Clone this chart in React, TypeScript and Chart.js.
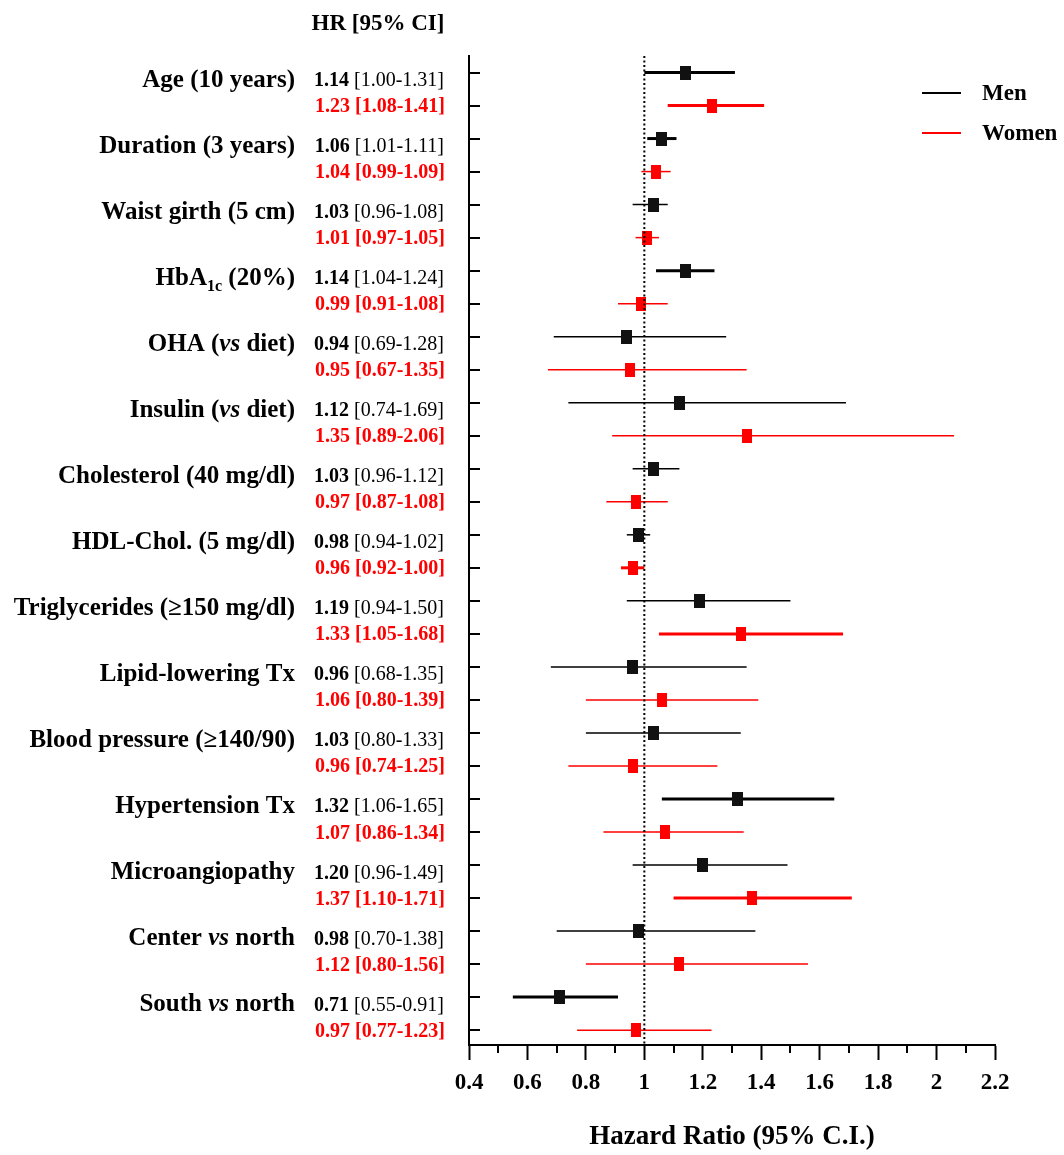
import React, { useEffect, useRef } from 'react';
import { Chart, registerables } from 'chart.js';

Chart.register(...registerables);

const FONT = '"Liberation Serif", "Times New Roman", serif';

// ---- data ----
const variables = [
  'Age (10 years)',
  'Duration (3 years)',
  'Waist girth (5 cm)',
  'HbA1c (20%)',
  'OHA (vs diet)',
  'Insulin (vs diet)',
  'Cholesterol (40 mg/dl)',
  'HDL-Chol. (5 mg/dl)',
  'Triglycerides (≥150 mg/dl)',
  'Lipid-lowering Tx',
  'Blood pressure (≥140/90)',
  'Hypertension Tx',
  'Microangiopathy',
  'Center vs north',
  'South vs north',
];
const menHR = [1.14, 1.06, 1.03, 1.14, 0.94, 1.12, 1.03, 0.98, 1.19, 0.96, 1.03, 1.32, 1.20, 0.98, 0.71];
const menLo = [1.00, 1.01, 0.96, 1.04, 0.69, 0.74, 0.96, 0.94, 0.94, 0.68, 0.80, 1.06, 0.96, 0.70, 0.55];
const menHi = [1.31, 1.11, 1.08, 1.24, 1.28, 1.69, 1.12, 1.02, 1.50, 1.35, 1.33, 1.65, 1.49, 1.38, 0.91];
const womenHR = [1.23, 1.04, 1.01, 0.99, 0.95, 1.35, 0.97, 0.96, 1.33, 1.06, 0.96, 1.07, 1.37, 1.12, 0.97];
const womenLo = [1.08, 0.99, 0.97, 0.91, 0.67, 0.89, 0.87, 0.92, 1.05, 0.80, 0.74, 0.86, 1.10, 0.80, 0.77];
const womenHi = [1.41, 1.09, 1.05, 1.08, 1.35, 2.06, 1.08, 1.00, 1.68, 1.39, 1.25, 1.34, 1.71, 1.56, 1.23];
const menBold = [true, true, false, true, false, false, false, false, false, false, false, true, false, false, true];
const womenBold = [true, false, false, false, false, false, false, true, true, false, false, false, true, false, false];
const xTickLabels = ['0.4', '0.6', '0.8', '1', '1.2', '1.4', '1.6', '1.8', '2', '2.2'];
const seriesLabels = ['Men', 'Women'];
const headerText = 'HR [95% CI]';
const xTitle = 'Hazard Ratio (95% C.I.)';

const MEN_COLOR = '#000000';
const WOMEN_COLOR = '#ff0000';

function rectStyle(w: number, h: number, color: string) {
  const c = document.createElement('canvas');
  c.width = w;
  c.height = h;
  const g = c.getContext('2d')!;
  g.fillStyle = color;
  g.fillRect(0, 0, w, h);
  return c;
}

function ciData(lo: number[], hi: number[], offset: number) {
  const out: any[] = [];
  lo.forEach((l, i) => {
    out.push({ x: l, y: 2 * i + offset });
    out.push({ x: hi[i], y: 2 * i + offset });
    out.push({ x: null, y: null });
  });
  return out;
}

function hrData(hr: number[], offset: number) {
  return hr.map((v, i) => ({ x: v, y: 2 * i + offset }));
}

const fmt = (v: number) => v.toFixed(2);

function drawLabel(ctx: CanvasRenderingContext2D, label: string, right: number, baseline: number) {
  // handles italic "vs" and HbA1c subscript
  const parts: { t: string; font: string; dy: number }[] = [];
  const bold = `bold 25px ${FONT}`;
  const boldItalic = `italic bold 25px ${FONT}`;
  const sub = `bold 16px ${FONT}`;
  if (label.startsWith('HbA1c')) {
    parts.push({ t: 'HbA', font: bold, dy: 0 });
    parts.push({ t: '1c', font: sub, dy: 6 });
    parts.push({ t: label.slice(5), font: bold, dy: 0 });
  } else if (label.includes('vs')) {
    const idx = label.indexOf('vs');
    parts.push({ t: label.slice(0, idx), font: bold, dy: 0 });
    parts.push({ t: 'vs', font: boldItalic, dy: 0 });
    parts.push({ t: label.slice(idx + 2), font: bold, dy: 0 });
  } else {
    parts.push({ t: label, font: bold, dy: 0 });
  }
  let total = 0;
  const widths = parts.map((p) => {
    ctx.font = p.font;
    const w = ctx.measureText(p.t).width;
    total += w;
    return w;
  });
  let x = right - total;
  ctx.textAlign = 'left';
  parts.forEach((p, i) => {
    ctx.font = p.font;
    ctx.fillText(p.t, x, baseline + p.dy);
    x += widths[i];
  });
}

const forestPlugin = {
  id: 'forestText',
  afterDraw(chart: any) {
    const { ctx, chartArea } = chart;
    const x = chart.scales.x;
    const y = chart.scales.y;
    ctx.save();
    ctx.fillStyle = '#000';
    ctx.strokeStyle = '#000';
    ctx.textBaseline = 'alphabetic';

    // header
    ctx.font = `bold 23px ${FONT}`;
    ctx.textAlign = 'center';
    ctx.fillText(headerText, 378, 30);

    // row ticks pointing inward
    ctx.lineWidth = 2;
    for (let i = 0; i < variables.length * 2; i++) {
      const py = Math.round(y.getPixelForValue(i));
      ctx.beginPath();
      ctx.moveTo(chartArea.left, py);
      ctx.lineTo(chartArea.left + 11, py);
      ctx.stroke();
    }

    // minor x ticks
    for (let k = 0; k < xTickLabels.length - 1; k++) {
      const v = (parseFloat(xTickLabels[k]) + parseFloat(xTickLabels[k + 1])) / 2;
      const px = Math.round(x.getPixelForValue(v));
      ctx.beginPath();
      ctx.moveTo(px, chartArea.bottom);
      ctx.lineTo(px, chartArea.bottom + 8);
      ctx.stroke();
    }

    // labels and stats
    variables.forEach((label, i) => {
      const menY = y.getPixelForValue(2 * i);
      const womenY = y.getPixelForValue(2 * i + 1);
      ctx.fillStyle = '#000';
      drawLabel(ctx, label, 295, menY + 14);

      // men stats: bold HR, regular CI
      const hrTxt = fmt(menHR[i]);
      const ciTxt = ` [${fmt(menLo[i])}-${fmt(menHi[i])}]`;
      ctx.font = `bold 20px ${FONT}`;
      const w1 = ctx.measureText(hrTxt).width;
      ctx.font = `20px ${FONT}`;
      const w2 = ctx.measureText(ciTxt).width;
      const sx = 444 - w1 - w2;
      ctx.textAlign = 'left';
      ctx.font = `bold 20px ${FONT}`;
      ctx.fillText(hrTxt, sx, menY + 13.5);
      ctx.font = `20px ${FONT}`;
      ctx.fillText(ciTxt, sx + w1, menY + 13.5);

      // women stats: all bold red
      ctx.fillStyle = WOMEN_COLOR;
      ctx.font = `bold 20px ${FONT}`;
      ctx.textAlign = 'right';
      ctx.fillText(`${fmt(womenHR[i])} [${fmt(womenLo[i])}-${fmt(womenHi[i])}]`, 445, womenY + 6.5);
    });

    // legend
    const colors = [MEN_COLOR, WOMEN_COLOR];
    const ds = chart.data.datasets;
    [0, 1].forEach((k) => {
      const ly = 93 + k * 40;
      ctx.strokeStyle = colors[k];
      ctx.lineWidth = 2;
      ctx.beginPath();
      ctx.moveTo(922, ly);
      ctx.lineTo(961, ly);
      ctx.stroke();
      ctx.fillStyle = '#000';
      ctx.font = `bold 23px ${FONT}`;
      ctx.textAlign = 'left';
      ctx.textBaseline = 'middle';
      ctx.fillText(ds[k].label, 982, ly + 1);
    });
    ctx.restore();
  },
};

export default function App() {
  const ref = useRef<HTMLCanvasElement>(null);

  useEffect(() => {
    document.body.style.margin = '0';
    const canvas = ref.current!;
    const menRect = rectStyle(11, 14, '#111111');
    const womenRect = rectStyle(10, 14, WOMEN_COLOR);
    const chart = new Chart(canvas, {
      type: 'line',
      data: {
        datasets: [
          {
            label: seriesLabels[0],
            data: ciData(menLo, menHi, 0),
            borderColor: MEN_COLOR,
            borderWidth: 1.5,
            pointRadius: 0,
            spanGaps: false,
            segment: { borderWidth: (c: any) => (menBold[Math.floor(c.p0DataIndex / 3)] ? 3 : 1.5) },
            order: 4,
          } as any,
          {
            label: seriesLabels[1],
            data: ciData(womenLo, womenHi, 1),
            borderColor: WOMEN_COLOR,
            borderWidth: 1.5,
            pointRadius: 0,
            spanGaps: false,
            segment: { borderWidth: (c: any) => (womenBold[Math.floor(c.p0DataIndex / 3)] ? 3 : 1.5) },
            order: 3,
          } as any,
          {
            label: 'Men HR',
            data: hrData(menHR, 0),
            showLine: false,
            pointStyle: menRect,
            pointRadius: 7,
            order: 2,
          } as any,
          {
            label: 'Women HR',
            data: hrData(womenHR, 1),
            showLine: false,
            pointStyle: womenRect,
            pointRadius: 7,
            order: 1,
          } as any,
          {
            label: 'ref',
            data: [
              { x: 1, y: -0.5 },
              { x: 1, y: 29.45 },
            ],
            borderColor: '#000',
            borderWidth: 2,
            borderDash: [2, 2.5],
            pointRadius: 0,
            order: 0,
          } as any,
        ],
      },
      options: {
        animation: false,
        responsive: false,
        events: [],
        layout: { padding: { left: 0, top: 56, right: 69, bottom: 0 } },
        plugins: { legend: { display: false }, tooltip: { enabled: false } },
        scales: {
          x: {
            type: 'linear',
            min: 0.4,
            max: 2.2,
            ticks: {
              stepSize: 0.2,
              autoSkip: false,
              maxRotation: 0,
              padding: 9,
              color: '#000',
              font: { family: FONT, size: 23, weight: 'bold' },
              callback: (v: any) => xTickLabels.find((l) => Math.abs(parseFloat(l) - Number(v)) < 1e-6) ?? '',
            },
            grid: { drawOnChartArea: false, drawTicks: true, tickLength: 15, tickWidth: 2, tickColor: '#000' },
            border: { display: true, width: 2, color: '#000' },
            title: {
              display: true,
              text: xTitle,
              color: '#000',
              font: { family: FONT, size: 27, weight: 'bold' },
              padding: { top: 0, bottom: 2 },
            },
            afterFit: (s: any) => {
              s.height = 110;
            },
          },
          y: {
            type: 'linear',
            reverse: true,
            min: -0.5,
            max: 29.45,
            ticks: { display: false },
            grid: { display: false, drawTicks: false },
            border: { display: true, width: 2, color: '#000' },
            afterFit: (s: any) => {
              s.width = 469;
            },
          },
        },
      } as any,
      plugins: [forestPlugin],
    });
    return () => chart.destroy();
  }, []);

  return (
    <div style={{ width: 1064, height: 1155, background: '#fff' }}>
      <canvas ref={ref} width={1064} height={1155} style={{ display: 'block' }} />
    </div>
  );
}
